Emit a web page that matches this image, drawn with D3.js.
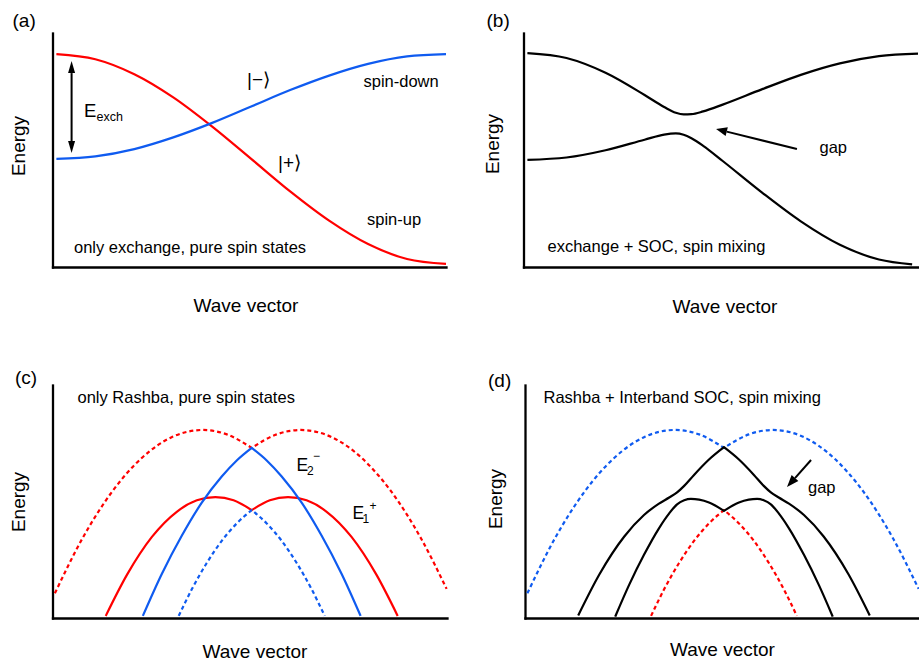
<!DOCTYPE html>
<html>
<head>
<meta charset="utf-8">
<script src="https://cdn.jsdelivr.net/npm/d3@7"></script>
<style>
  html, body { margin: 0; padding: 0; background: #fff; }
  svg { display: block; font-family: "Liberation Sans", Arial, Helvetica, sans-serif; }
</style>
</head>
<body>
<svg id="chart" width="919" height="662"></svg>
<script>
// ---------- (a) exchange only: pure spin bands ----------
const waveA     = [0, 10, 20, 30, 40, 50, 60, 70, 80, 90, 100];
const spinUpE   = [91.0, 88.8, 82.4, 72.5, 60.0, 46.2, 32.3, 19.8, 9.8, 3.4, 1.3];
const spinDownE = [46.2, 47.3, 50.4, 55.4, 61.6, 68.6, 75.6, 81.8, 86.8, 90.0, 91.0];

// ---------- (b) exchange + SOC: anticrossing bands ----------
const waveBUpper  = [0, 10, 20, 30, 35, 38, 40, 42, 45, 50, 60, 70, 80, 90, 100];
const mixedUpperE = [91.4, 89.3, 83.0, 73.5, 68.4, 65.9, 65.2, 65.3, 66.5, 69.4, 75.9, 82.1, 87.0, 90.1, 91.2];
const waveBLower  = [0, 10, 20, 30, 35, 38, 40, 42, 45, 50, 60, 70, 80, 90, 98.5];
const mixedLowerE = [45.8, 46.8, 49.9, 54.4, 56.6, 57.1, 56.5, 55.0, 51.8, 45.3, 31.9, 19.5, 9.5, 3.2, 1.1];

// ---------- (c)/(d) Rashba bands, [k, E] per branch ----------
// outer pair, upper envelope
const outerTopLeft  = [[-49.9, 10.6], [-43.0, 33.9], [-35.4, 54.2], [-27.8, 68.8], [-20.3, 77.6], [-12.4, 80.7], [-6.3, 78.8], [0, 73.0]];
const outerTopRight = [[0, 73.0], [6.3, 78.8], [12.4, 80.7], [20.3, 77.6], [27.8, 68.8], [35.4, 54.2], [43.0, 33.9], [49.4, 12.5]];
// outer pair, lower envelope
const outerLowLeft  = [[-27.6, 0.9], [-22.8, 18.9], [-17.7, 35.4], [-12.7, 49.4], [-7.6, 60.7], [-3.8, 67.6], [0, 73.0]];
const outerLowRight = [[0, 73.0], [3.8, 67.6], [7.6, 60.7], [12.7, 49.4], [17.7, 35.4], [22.8, 18.9], [27.6, 0.9]];
// inner pair, upper envelope
const innerTopLeft  = [[-37.0, 0.9], [-31.6, 18.6], [-25.3, 34.8], [-19.0, 45.6], [-13.9, 50.5], [-9.2, 51.9], [-4.6, 50.5], [0, 46.3]];
const innerTopRight = [[0, 46.3], [4.6, 50.5], [9.2, 51.9], [13.9, 50.5], [19.0, 45.6], [25.3, 34.8], [31.6, 18.6], [37.0, 0.9]];
// inner pair, lower envelope
const innerLowLeft  = [[-18.5, 0.9], [-15.2, 12.3], [-11.4, 23.6], [-7.6, 33.1], [-3.8, 40.6], [0, 46.3]];
const innerLowRight = [[0, 46.3], [3.8, 40.6], [7.6, 33.1], [11.4, 23.6], [15.2, 12.3], [18.5, 0.9]];
// (d) hybridised bands with interband SOC gap
const hybridTopLeft  = [[-37.0, 1.1], [-31.6, 18.8], [-25.3, 35.0], [-20.3, 44.2], [-16.5, 49.1], [-13.9, 51.7], [-11.9, 53.9], [-10.1, 56.7], [-7.6, 61.4], [-3.8, 68.0], [0, 73.3]];
const hybridTopRight = [[0, 73.3], [3.8, 68.0], [7.6, 61.4], [10.1, 56.7], [11.9, 53.9], [13.9, 51.7], [16.5, 49.1], [20.3, 44.2], [25.3, 35.0], [31.6, 18.8], [37.0, 1.1]];
const hybridLowLeft  = [[-27.6, 0.6], [-24.1, 14.1], [-20.3, 27.1], [-16.5, 38.5], [-13.9, 44.9], [-11.9, 48.8], [-10.1, 50.5], [-8.4, 51.1], [-6.3, 50.8], [-3.8, 49.6], [0, 46.0]];
const hybridLowRight = [[0, 46.0], [3.8, 49.6], [6.3, 50.8], [8.4, 51.1], [10.1, 50.5], [11.9, 48.8], [13.9, 44.9], [16.5, 38.5], [20.3, 27.1], [24.1, 14.1], [27.6, 0.6]];

const RED = "#ff0000";
const BLUE = "#0f5bf0";
const BLACK = "#000";

const svg = d3.select("#chart");

function makePanel(cfg) {
  const x = d3.scaleLinear().domain(cfg.xDomain).range([cfg.x0, cfg.x1]);
  const y = d3.scaleLinear().domain([0, 100]).range([cfg.yBot, cfg.yTop]);
  const g = svg.append("g");
  // plain L-shaped frame, no ticks
  const ax = g.append("g").attr("transform", `translate(${cfg.x0},0)`)
    .call(d3.axisLeft(y).tickValues([]).tickSizeOuter(0));
  const bx = g.append("g").attr("transform", `translate(0,${cfg.yBot})`)
    .call(d3.axisBottom(x).tickValues([]).tickSizeOuter(0));
  [ax, bx].forEach(a => a.select(".domain")
    .attr("stroke", BLACK).attr("stroke-width", 2.3).attr("stroke-linecap", "square"));
  return { x, y, g };
}

function addText(g, x, y, str, size, extra) {
  const t = g.append("text").attr("x", x).attr("y", y)
    .attr("font-size", size).attr("fill", BLACK).text(str);
  if (extra) Object.entries(extra).forEach(([k, v]) => t.attr(k, v));
  return t;
}

function axisTitles(g, wx, wy, ex, ey) {
  addText(g, wx, wy, "Wave vector", 19, { "text-anchor": "middle" });
  addText(g, 0, 0, "Energy", 19, { "text-anchor": "middle", transform: `translate(${ex},${ey}) rotate(-90)` });
}

function arrowHead(g, tx, ty, fx, fy, len, half) {
  const dx = tx - fx, dy = ty - fy, L = Math.hypot(dx, dy);
  const ux = dx / L, uy = dy / L, nx = -uy, ny = ux;
  const bx = tx - ux * len, by = ty - uy * len;
  g.append("path")
    .attr("d", `M${tx},${ty}L${bx + nx * half},${by + ny * half}L${bx - nx * half},${by - ny * half}Z`)
    .attr("fill", BLACK);
  return [bx, by];
}

function arrow(g, x1, y1, x2, y2, len, half, both) {
  const [ex, ey] = arrowHead(g, x2, y2, x1, y1, len, half);
  let sx = x1, sy = y1;
  if (both) [sx, sy] = arrowHead(g, x1, y1, x2, y2, len, half);
  g.append("line").attr("x1", sx).attr("y1", sy).attr("x2", ex).attr("y2", ey)
    .attr("stroke", BLACK).attr("stroke-width", 2);
}

// ===================== (a) =====================
{
  const { x, y, g } = makePanel({ xDomain: [-1, 100], x0: 52.5, x1: 446, yBot: 267, yTop: 33 });
  const line = d3.line().x(d => x(d[0])).y(d => y(d[1])).curve(d3.curveMonotoneX);
  g.append("path").attr("d", line(d3.zip(waveA, spinUpE)))
    .attr("fill", "none").attr("stroke", RED).attr("stroke-width", 2.2);
  g.append("path").attr("d", line(d3.zip(waveA, spinDownE)))
    .attr("fill", "none").attr("stroke", BLUE).attr("stroke-width", 2.2);

  arrow(g, x(3.9), y(88.0), x(3.9), y(48.7), 12, 3.5, true);
  addText(g, 84, 117, "E", 18.5);
  addText(g, 96.5, 121, "exch", 12.5);
  addText(g, 247, 86, "|\u2212\u27e9", 19);
  addText(g, 278, 169, "|+\u27e9", 19);
  addText(g, 363.5, 87, "spin-down", 16.5);
  addText(g, 367, 225, "spin-up", 16.5);
  addText(g, 74, 253, "only exchange, pure spin states", 16.5);
  addText(g, 12.5, 27, "(a)", 19);
  axisTitles(g, 246, 311.5, 24.5, 146);
}

// ===================== (b) =====================
{
  const { x, y, g } = makePanel({ xDomain: [-1, 100], x0: 523.5, x1: 918, yBot: 267, yTop: 33 });
  const line = d3.line().x(d => x(d[0])).y(d => y(d[1])).curve(d3.curveMonotoneX);
  g.append("path").attr("d", line(d3.zip(waveBUpper, mixedUpperE)))
    .attr("fill", "none").attr("stroke", BLACK).attr("stroke-width", 2.2);
  g.append("path").attr("d", line(d3.zip(waveBLower, mixedLowerE)))
    .attr("fill", "none").attr("stroke", BLACK).attr("stroke-width", 2.2);

  arrow(g, x(69.0), y(50.4), x(48.3), y(59.0), 11, 4.5, false);
  addText(g, 819.5, 153, "gap", 16.5);
  addText(g, 547.5, 251.5, "exchange + SOC, spin mixing", 16.5);
  addText(g, 486.5, 27, "(b)", 19);
  axisTitles(g, 725, 313, 498.5, 144);
}

// branches joined into one continuous path
function branchPath(line, branches) {
  return branches.map((b, i) => {
    const d = line(b);
    return i === 0 ? d : d.replace(/^M/, "L");
  }).join("");
}

function drawBands(g, line, branches, color, dashed) {
  const p = g.append("path").attr("d", branchPath(line, branches))
    .attr("fill", "none").attr("stroke", color).attr("stroke-width", 2.2)
    .attr("stroke-linejoin", "miter");
  if (dashed) p.attr("stroke-dasharray", "4,3");
}

// ===================== (c) =====================
{
  const { x, y, g } = makePanel({ xDomain: [-50.5, 49.5], x0: 52.5, x1: 447, yBot: 618, yTop: 385 });
  const line = d3.line().x(d => x(d[0])).y(d => y(d[1])).curve(d3.curveMonotoneX);
  drawBands(g, line, [outerTopLeft, outerTopRight], RED, true);
  drawBands(g, line, [innerTopLeft, innerTopRight], RED, false);
  drawBands(g, line, [outerLowLeft, outerLowRight], BLUE, false);
  drawBands(g, line, [innerLowLeft, innerLowRight], BLUE, true);

  addText(g, 296.5, 471, "E", 17.5);
  addText(g, 307, 474.5, "2", 12);
  addText(g, 313, 460, "\u2212", 12);
  addText(g, 352.5, 519, "E", 17.5);
  addText(g, 362.5, 523, "1", 12);
  addText(g, 369.5, 509.5, "+", 12);
  addText(g, 77.5, 402.5, "only Rashba, pure spin states", 16.5);
  addText(g, 15, 384, "(c)", 19);
  axisTitles(g, 255, 658, 25, 502);
}

// ===================== (d) =====================
{
  const { x, y, g } = makePanel({ xDomain: [-50.5, 49.5], x0: 525, x1: 919, yBot: 618, yTop: 385 });
  const line = d3.line().x(d => x(d[0])).y(d => y(d[1])).curve(d3.curveMonotoneX);
  drawBands(g, line, [outerTopLeft, outerTopRight], BLUE, true);
  drawBands(g, line, [innerLowLeft, innerLowRight], RED, true);
  drawBands(g, line, [hybridTopLeft, hybridTopRight], BLACK, false);
  drawBands(g, line, [hybridLowLeft, hybridLowRight], BLACK, false);

  arrow(g, x(22.1), y(67.8), x(16.0), y(56.2), 12, 4.5, false);
  addText(g, 808, 492.5, "gap", 16.5);
  addText(g, 543.5, 403, "Rashba + Interband SOC, spin mixing", 16.5);
  addText(g, 488, 386.5, "(d)", 19);
  axisTitles(g, 722.5, 656, 501.5, 499);
}
</script>
</body>
</html>
